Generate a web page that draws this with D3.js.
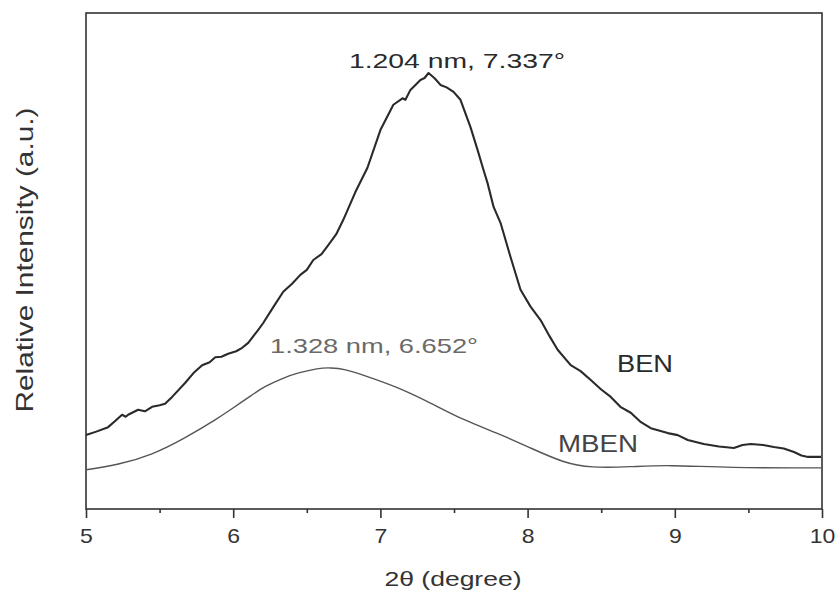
<!DOCTYPE html>
<html>
<head>
<meta charset="utf-8">
<script src="https://cdn.jsdelivr.net/npm/d3@7"></script>
<style>
  body { margin: 0; background: #fff; }
  svg { display: block; font-family: Arial, "Liberation Sans", sans-serif; }
</style>
</head>
<body>
<svg id="chart" width="837" height="590"></svg>
<script>
// ---------- data ----------
const benX = [5.00, 5.07, 5.15, 5.20, 5.245, 5.27, 5.286, 5.354, 5.40, 5.449, 5.50, 5.537, 5.585, 5.673, 5.73, 5.789,
  5.84, 5.878, 5.92, 5.966, 6.02, 6.061, 6.102, 6.170, 6.204, 6.27, 6.340, 6.40, 6.456, 6.50, 6.544, 6.60, 6.646,
  6.70, 6.748, 6.830, 6.912, 7.000, 7.088, 7.15, 7.17, 7.204, 7.272, 7.30, 7.327, 7.37, 7.408, 7.45, 7.497,
  7.544, 7.612, 7.660, 7.701, 7.728, 7.769, 7.816, 7.884, 7.952, 8.020, 8.088, 8.15, 8.204, 8.293, 8.36,
  8.429, 8.50, 8.565, 8.63, 8.701, 8.77, 8.837, 8.952, 9.02, 9.088, 9.197, 9.30, 9.401, 9.46, 9.517, 9.60,
  9.673, 9.74, 9.810, 9.86, 9.905, 9.993];
const benY = [14.9, 15.6, 16.5, 17.8, 19.0, 18.6, 19.0, 20.0, 19.7, 20.6, 20.9, 21.2, 22.6, 25.4, 27.4, 29.0,
  29.6, 30.6, 30.7, 31.3, 31.8, 32.5, 33.5, 36.1, 37.5, 40.6, 43.8, 45.4, 47.2, 48.2, 50.2, 51.4, 53.2,
  55.4, 58.3, 63.9, 68.8, 76.4, 81.5, 82.8, 82.5, 84.5, 86.5, 86.9, 87.9, 86.8, 85.5, 85.0, 84.1,
  82.5, 77.0, 72.4, 68.3, 65.7, 60.9, 57.7, 50.8, 44.2, 40.8, 38.1, 34.8, 32.1, 29.0, 27.8,
  26.0, 24.1, 22.6, 20.6, 19.4, 17.5, 16.3, 15.3, 14.9, 13.9, 13.1, 12.6, 12.3, 12.9, 13.1, 12.9,
  12.5, 12.2, 11.5, 10.8, 10.5, 10.5];

const mbenX = [5.00, 5.218, 5.449, 5.673, 5.898, 5.980, 6.129, 6.204, 6.354, 6.435, 6.578, 6.660, 6.76, 6.884,
  7.116, 7.340, 7.565, 7.796, 8.020, 8.245, 8.429, 8.701, 8.952, 9.361, 9.993];
const mbenY = [7.9, 8.9, 10.9, 14.3, 18.3, 20.0, 23.0, 24.6, 26.6, 27.4, 28.4, 28.5, 28.2, 27.0,
  24.6, 21.4, 17.9, 15.3, 12.3, 9.3, 8.3, 8.5, 8.9, 8.3, 8.3];

const xMajor = [5, 6, 7, 8, 9, 10];
const xMinor = [5.5, 6.5, 7.5, 8.5, 9.5];

// ---------- layout ----------
const svg = d3.select("#chart");
const m = { left: 86, right: 822, top: 13, bottom: 509 };

const x = d3.scaleLinear().domain([5, 10]).range([m.left, m.right]);
const y = d3.scaleLinear().domain([0, 100]).range([m.bottom, m.top]);

const ink = "#2a2a2a";

// frame
svg.append("rect")
  .attr("x", m.left).attr("y", m.top)
  .attr("width", m.right - m.left).attr("height", m.bottom - m.top)
  .attr("fill", "none").attr("stroke", "#333").attr("stroke-width", 1.6);

// x axis (ticks pointing out)
const xAxis = svg.append("g")
  .attr("transform", `translate(0,${m.bottom})`)
  .call(d3.axisBottom(x).tickValues(xMajor).tickSize(9).tickPadding(11).tickFormat(d3.format("d")));
xAxis.select(".domain").remove();
xAxis.selectAll(".tick line").attr("stroke", "#333").attr("stroke-width", 1.6);
xAxis.selectAll(".tick text")
  .attr("font-size", 20).attr("fill", "#333")
  .attr("font-family", "Arial, 'Liberation Sans', sans-serif")
  .attr("transform", "scale(1.15,1)");

svg.append("g")
  .attr("transform", `translate(0,${m.bottom})`)
  .call(d3.axisBottom(x).tickValues(xMinor).tickSize(4).tickFormat(""))
  .call(g => g.select(".domain").remove())
  .selectAll(".tick line").attr("stroke", "#333").attr("stroke-width", 1.6);

// curves
const lineBen = d3.line().x((d, i) => x(benX[i])).y(d => y(d)).curve(d3.curveLinear);
const lineMben = d3.line().x((d, i) => x(mbenX[i])).y(d => y(d)).curve(d3.curveBasis);

svg.append("path").datum(mbenY)
  .attr("d", lineMben).attr("fill", "none")
  .attr("stroke", "#555").attr("stroke-width", 1.4);

svg.append("path").datum(benY)
  .attr("d", lineBen).attr("fill", "none")
  .attr("stroke", ink).attr("stroke-width", 2.1).attr("stroke-linejoin", "round");

// ---------- texts ----------
const label = (txt, cx, base, size, width, color) =>
  svg.append("text")
    .attr("x", cx).attr("y", base)
    .attr("text-anchor", "middle")
    .attr("font-size", size).attr("fill", color)
    .attr("textLength", width).attr("lengthAdjust", "spacingAndGlyphs")
    .text(txt);

label("1.204 nm, 7.337°", 457, 68, 21, 216, ink);
label("1.328 nm, 6.652°", 374, 353, 21, 208, "#6a6a6a");
label("BEN", 645, 372, 23, 56, ink);
label("MBEN", 598, 452, 23, 80, "#444");

label("2θ (degree)", 453, 586, 20, 137, "#333");

svg.append("text")
  .attr("transform", `translate(33,260) rotate(-90)`)
  .attr("text-anchor", "middle")
  .attr("font-size", 24).attr("fill", "#333")
  .attr("textLength", 305).attr("lengthAdjust", "spacingAndGlyphs")
  .text("Relative Intensity (a.u.)");
</script>
</body>
</html>
